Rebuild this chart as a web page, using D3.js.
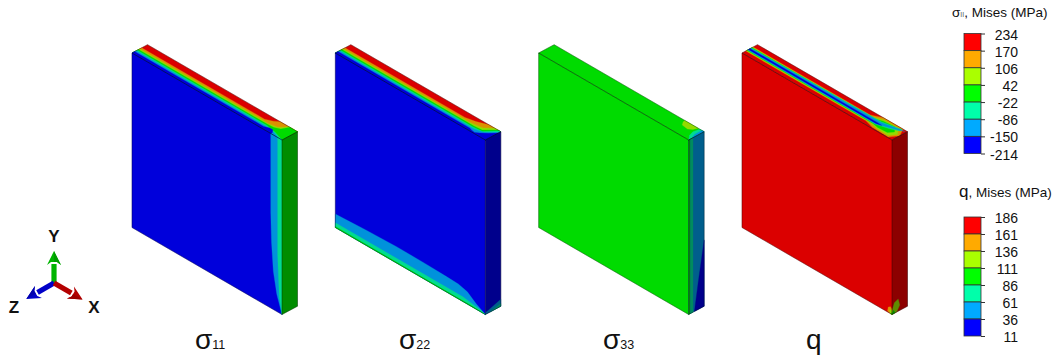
<!DOCTYPE html>
<html>
<head>
<meta charset="utf-8">
<script src="https://cdn.jsdelivr.net/npm/d3@7"></script>
<style>
  html, body { margin: 0; padding: 0; background: #fff; }
  text { font-family: "Liberation Sans", Arial, sans-serif; fill: #111; }
</style>
</head>
<body>
<script>
/* contour colours, level 0 (lowest) to 6 (highest) */
const levelColors = ['#0000ff', '#00aaff', '#00ffaa', '#00ff00', '#aaff00', '#ffaa00', '#ff0000'];

/* legends */
const sigmaTicks = [234, 170, 106, 42, -22, -86, -150, -214];
const mises = [186, 161, 136, 111, 86, 61, 36, 11];

/* panel captions */
const captions = ['σ', 'σ', 'σ', 'q'];
const captionSubs = ['11', '22', '33', ''];

/* contour regions in plate coordinates, painted in order: [level, [[a, b], ...]]
   top face: a = length, b = thickness; front: a = length, b = height; right: a = thickness, b = height */
const s11Top = [
  [6, [[0, 0], [1, 0], [1, 1], [0, 1]]],
  [5, [[0, .62], [.82, .62], [.86, .8], [.885, 1], [1, 1], [1, 0], [0, 0]]],
  [4, [[0, .5], [.86, .5], [.91, .6], [.93, .8], [.94, 1], [1, 1], [1, 0], [0, 0]]],
  [3, [[0, .42], [.86, .42], [.9, .45], [.93, .6], [.95, 1], [1, 1], [1, 0], [0, 0]]],
  [2, [[0, .34], [.86, .34], [.93, .22], [1, 0], [0, 0]]],
  [1, [[0, .26], [.86, .26], [.93, .16], [.97, 0], [0, 0]]],
  [0, [[0, .17], [.86, .17], [.89, .28], [.91, .28], [.925, .1], [.925, 0], [0, 0]]]
];
const s11Front = [
  [0, [[0, 0], [1, 0], [1, 1], [0, 1]]],
  [1, [[.925, 1], [.925, .55], [.93, .38], [.942, .22], [.965, .1], [1, 0], [1, 1]]],
  [2, [[.971, 1], [.971, .33], [.982, .09], [1, 0], [1, 1]]]
];
const s11Right = [[3, [[0, 0], [1, 0], [1, 1], [0, 1]]]];

const s22Top = [
  [6, [[0, 0], [1, 0], [1, 1], [0, 1]]],
  [5, [[0, .62], [.8, .62], [.86, .75], [.92, 1], [1, 1], [1, 0], [0, 0]]],
  [4, [[0, .5], [.84, .5], [.92, .62], [.96, 1], [1, 1], [1, 0], [0, 0]]],
  [3, [[0, .42], [.88, .42], [.93, .47], [.98, 1], [1, 1], [1, 0], [0, 0]]],
  [2, [[0, .34], [.88, .34], [.94, .4], [.99, 1], [1, 1], [1, 0], [0, 0]]],
  [1, [[0, .26], [.9, .26], [.95, .4], [1, .9], [1, 0], [0, 0]]],
  [0, [[0, .17], [.88, .17], [.9, .1], [.92, .08], [.94, .22], [.97, .5], [1, .85], [1, 0], [0, 0]]]
];
const s22Front = [
  [0, [[0, 0], [1, 0], [1, 1], [0, 1]]],
  [1, [[0, .077], [.2, .087], [.408, .0935], [.6, .092], [.741, .088], [.82, .085], [.88, .07], [.94, .03], [1, 0], [0, 0]]],
  [2, [[0, .027], [.85, .027], [.97, .01], [1, 0], [0, 0]]],
  [3, [[0, .006], [.9, .004], [1, 0], [0, 0]]]
];
const s22Right = [
  [0, [[0, 0], [1, 0], [1, 1], [0, 1]]],
  [1, [[0, .01], [.2, .015], [1, .04], [1, 0], [0, 0]]],
  [2, [[.3, 0], [1, .015], [1, 0]]]
];

const s33Top = [
  [3, [[0, 0], [1, 0], [1, 1], [0, 1]]],
  [4, [[.87, 1], [.875, .85], [.89, .65], [.93, .6], [.95, .75], [.96, 1]]],
  [2, [[1, 0], [.975, .3], [.964, .62], [.971, 1], [1, 1]]],
  [1, [[1, .2], [.985, .55], [.985, 1], [1, 1]]]
];
const s33Front = [[3, [[0, 0], [1, 0], [1, 1], [0, 1]]]];
const s33Right = [
  [1, [[0, 0], [1, 0], [1, 1], [0, 1]]],
  [3, [[0, 0], [.1, 0], [.1, 1], [0, 1]]],
  [2, [[.1, 0], [.28, 0], [.28, 1], [.1, 1]]],
  [0, [[1, .38], [.665, .185], [.37, 0], [1, 0]]]
];

const qTop = [
  [6, [[0, 0], [1, 0], [1, 1], [0, 1]]],
  [5, [[0, .24], [.8, .24], [.86, .08], [.97, .04], [1, .5], [.97, 1], [.84, 1], [.78, .72], [0, .72]]],
  [4, [[0, .28], [.82, .28], [.88, .16], [.96, .12], [.985, .5], [.95, .9], [.86, .9], [.8, .68], [0, .68]]],
  [3, [[0, .32], [.84, .32], [.88, .24], [.94, .28], [.96, .55], [.93, .85], [.86, .8], [.82, .64], [0, .64]]],
  [2, [[0, .35], [.85, .35], [.92, .55], [.97, .78], [.97, .95], [.93, .85], [.86, .7], [0, .61]]],
  [1, [[0, .38], [.85, .38], [.93, .68], [.99, .92], [.93, .8], [.86, .64], [0, .58]]],
  [0, [[0, .42], [.85, .42], [.88, .5], [.85, .52], [0, .52]]]
];
const qFront = [
  [6, [[0, 0], [1, 0], [1, 1], [0, 1]]],
  [5, [[.97, .005], [.975, .03], [.99, .04], [1, .03], [1, 0]]],
  [4, [[.985, .005], [.985, .02], [1, .025], [1, 0]]],
  [3, [[.99, 0], [1, .012], [1, 0]]]
];
const qRight = [
  [6, [[0, 0], [1, 0], [1, 1], [0, 1]]],
  [4, [[0, .02], [.15, .06], [.4, .07], [.5, .03], [.3, 0], [0, 0]]],
  [3, [[0, 0], [.1, .02], [.2, 0]]]
];

/* triad: name, screen direction of the axis, length */
const triadNames = ['Y', 'Z', 'X'];
const triadAngles = [-90, 150, 30];
const triadColors = ['#00b400', '#0000c8', '#b40000'];

const width = 1059, height = 356;
const svg = d3.select('body').append('svg')
  .attr('width', width)
  .attr('height', height)
  .style('display', 'block');

/* plate projection */
const lengthX = d3.scaleLinear().domain([0, 1]).range([0, 150]);
const lengthY = d3.scaleLinear().domain([0, 1]).range([0, 87]);
const heightY = d3.scaleLinear().domain([0, 1]).range([174.5, 0]);
const thickX = d3.scaleLinear().domain([0, 1]).range([0, 15.5]);
const thickY = d3.scaleLinear().domain([0, 1]).range([0, -8.3]);

const faces = {
  top: p => [lengthX(p[0]) + thickX(p[1]), lengthY(p[0]) + thickY(p[1])],
  front: p => [lengthX(p[0]), lengthY(p[0]) + heightY(p[1])],
  right: p => [lengthX(1) + thickX(p[0]), lengthY(1) + thickY(p[0]) + heightY(p[1])]
};
const faceShade = { top: 0.86, front: 0.86, right: 0.55 };

function shade(level, face) {
  const c = d3.rgb(levelColors[level]);
  const k = faceShade[face];
  return d3.rgb(c.r * k, c.g * k, c.b * k).formatHex();
}

const line = d3.line().curve(d3.curveLinear);
const plateX = d3.scalePoint().domain([0, 1, 2, 3]).range([132, 742]);

const plates = [
  { top: s11Top, front: s11Front, right: s11Right },
  { top: s22Top, front: s22Front, right: s22Right },
  { top: s33Top, front: s33Front, right: s33Right },
  { top: qTop, front: qFront, right: qRight }
];

plates.forEach((plate, i) => {
  const g = svg.append('g')
    .attr('class', 'plate')
    .attr('transform', `translate(${plateX(i)}, 53)`);

  ['top', 'front', 'right'].forEach(face => {
    g.append('g').selectAll('path')
      .data(plate[face])
      .enter().append('path')
      .attr('d', d => line(d[1].map(faces[face])) + 'Z')
      .attr('fill', d => shade(d[0], face))
      .attr('stroke', d => shade(d[0], face))
      .attr('stroke-width', 0.3);
  });

  // outline of the solid
  const outline = [
    faces.top([0, 0]), faces.top([0, 1]), faces.top([1, 1]), faces.right([1, 1]),
    faces.right([1, 0]), faces.right([0, 0]), faces.front([0, 0]), faces.front([0, 1])
  ];
  g.append('path')
    .attr('d', line(outline) + 'Z')
    .attr('fill', 'none')
    .attr('stroke', '#000')
    .attr('stroke-opacity', 0.4)
    .attr('stroke-width', 0.8);
  g.append('path')
    .attr('d', line([faces.front([0, 1]), faces.front([1, 1]), faces.top([1, 1])]))
    .attr('fill', 'none')
    .attr('stroke', '#000')
    .attr('stroke-opacity', 0.65)
    .attr('stroke-width', 0.8);
  g.append('path')
    .attr('d', line([faces.front([1, 1]), faces.front([1, 0])]))
    .attr('fill', 'none')
    .attr('stroke', '#000')
    .attr('stroke-opacity', 0.35)
    .attr('stroke-width', 0.8);
});

/* captions */
const captionX = d3.scalePoint().domain([0, 1, 2]).range([195, 603]);
captions.forEach((c, i) => {
  const t = svg.append('text')
    .attr('x', i < 3 ? captionX(i) : 806)
    .attr('y', 349)
    .style('font-size', '28px')
    .text(c);
  if (captionSubs[i]) {
    t.append('tspan')
      .style('font-size', '12.5px')
      .text(captionSubs[i]);
  }
});

/* colour legends */
function legend(ticks, top, bottom) {
  const y = d3.scaleLinear()
    .domain([ticks[ticks.length - 1], ticks[0]])
    .range([bottom, top]);
  const g = svg.append('g').attr('class', 'legend');

  g.selectAll('rect')
    .data(d3.range(ticks.length - 1))
    .enter().append('rect')
    .attr('x', 964)
    .attr('y', d => y(ticks[d]))
    .attr('width', 17)
    .attr('height', d => y(ticks[d + 1]) - y(ticks[d]))
    .attr('fill', d => levelColors[6 - d])
    .attr('stroke', '#333')
    .attr('stroke-width', 0.8);

  const axis = d3.axisRight(y)
    .tickValues(ticks)
    .tickFormat(d => String(d))
    .tickSize(4)
    .tickPadding(0);

  const ag = g.append('g')
    .attr('transform', 'translate(981, 0)')
    .call(axis);
  ag.select('.domain').remove();
  ag.selectAll('.tick line').attr('stroke', '#333');
  ag.selectAll('.tick text')
    .attr('x', 37)
    .attr('dy', '0.4em')
    .attr('text-anchor', 'end')
    .style('font-family', '"Liberation Sans", Arial, sans-serif')
    .style('font-size', '14px')
    .attr('fill', '#111');
}
legend(sigmaTicks, 33.5, 153.5);
legend(mises, 217, 336);

const title1 = svg.append('text')
  .attr('x', 952)
  .attr('y', 16.5)
  .style('font-size', '13.5px');
title1.append('tspan').text('σ');
title1.append('tspan').style('font-size', '7px').attr('fill', '#555').text('II');
title1.append('tspan').text(', Mises (MPa)');

const title2 = svg.append('text')
  .attr('x', 959)
  .attr('y', 197)
  .style('font-size', '13.5px');
title2.append('tspan').style('font-size', '17px').text('q');
title2.append('tspan').text(', Mises (MPa)');

/* triad */
const triadLength = d3.scaleOrdinal().domain(triadNames).range([32, 32, 33]);
const triad = svg.append('g').attr('transform', 'translate(54, 283)');
triadNames.forEach((name, i) => {
  const a = triadAngles[i] * Math.PI / 180;
  const len = triadLength(name);
  const ux = Math.cos(a), uy = Math.sin(a);
  const nx = -uy, ny = ux;
  const at = (along, side) => [ux * along + nx * side, uy * along + ny * side];
  const base = len - 14;

  triad.append('path')
    .attr('d', line([at(0, -2.6), at(base + 1, -2.6), at(base + 1, 2.6), at(0, 2.6)]) + 'Z')
    .attr('fill', triadColors[i]);
  triad.append('path')
    .attr('d', line([at(base, -7), at(base + 3, -3), at(base + 3, 3), at(base, 7), at(len, 0)]) + 'Z')
    .attr('fill', triadColors[i]);
  triad.append('path')
    .attr('d', line([at(base + 3, 0), at(base + 3, 3), at(base, 7), at(len, 0)]) + 'Z')
    .attr('fill', d3.rgb(triadColors[i]).darker(0.4));
});

const labelX = d3.scaleOrdinal().domain(triadNames).range([54, 14, 94]);
const labelY = d3.scaleOrdinal().domain(triadNames).range([242, 313, 313]);
svg.append('g').selectAll('text')
  .data(triadNames)
  .enter().append('text')
  .attr('x', d => labelX(d))
  .attr('y', d => labelY(d))
  .attr('text-anchor', 'middle')
  .style('font-size', '17px')
  .style('font-weight', 'bold')
  .text(d => d);
</script>
</body>
</html>
